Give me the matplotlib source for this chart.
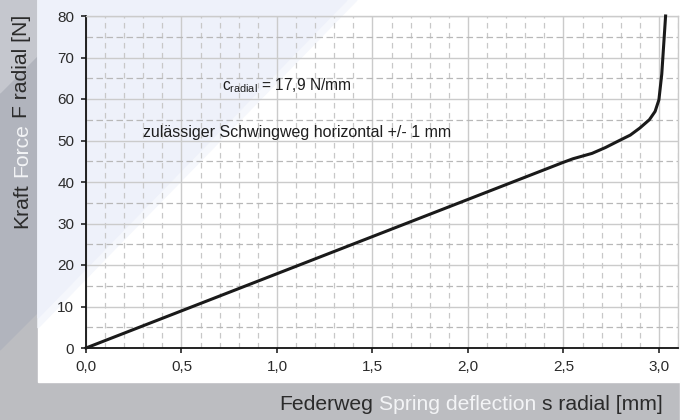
import matplotlib as mpl
import matplotlib.pyplot as plt
from matplotlib.patches import Polygon
from matplotlib.ticker import FixedLocator, MultipleLocator, FixedFormatter

mpl.rc('font', family='Liberation Sans')
mpl.rc('mathtext', fontset='custom', rm='Liberation Sans', it='Liberation Sans:italic')
mpl.rc('lines', scale_dashes=False)

# spring curve
deflection = [0.0, 0.5, 1.0, 1.5, 2.0, 2.5, 2.55, 2.65, 2.72, 2.78, 2.85, 2.9, 2.95, 2.98, 3.0, 3.015, 3.035]
force = [0.0, 8.95, 17.9, 26.85, 35.8, 44.75, 45.6, 46.9, 48.3, 49.7, 51.3, 53.0, 55.0, 57.0, 59.8, 66.0, 80.0]

x_ticks = [0.0, 0.5, 1.0, 1.5, 2.0, 2.5, 3.0]
x_tick_labels = ['0,0', '0,5', '1,0', '1,5', '2,0', '2,5', '3,0']
y_ticks = [0, 10, 20, 30, 40, 50, 60, 70, 80]
y_tick_labels = ['0', '10', '20', '30', '40', '50', '60', '70', '80']

stiffness_text = 'c$_{\\mathrm{radial}}$ = 17,9 N/mm'
travel_text = 'zulässiger Schwingweg horizontal +/- 1 mm'
xlabel_parts = ['Federweg ', 'Spring deflection ', 's radial [mm]']
ylabel_parts = ['Kraft ', 'Force ', 'F radial [N]']

dark = '#2b2b2b'
light = '#f3f4f6'
W, H = 688, 420

fig = plt.figure(figsize=(W / 100, H / 100), dpi=100)
fig.patch.set_facecolor('#bcbdc1')

# page background drawn in pixel coords
bg = fig.add_axes([0, 0, 1, 1], zorder=-1)
bg.set_xlim(0, W)
bg.set_ylim(H, 0)
bg.axis('off')
bg.add_patch(Polygon([(0, 0), (38, 0), (38, 312), (0, 350)], color='#b1b4bd'))
bg.add_patch(Polygon([(0, 0), (38, 0), (38, 55), (0, 93)], color='#c5c7ce'))
bg.add_patch(Polygon([(38, 0), (W, 0), (W, H), (680, H), (680, 382), (38, 382)], color='white'))
bg.add_patch(Polygon([(38, 0), (357, 0), (38, 328)], color='#f5f7fc'))
bg.add_patch(Polygon([(38, 0), (347, 0), (38, 318)], color='#eef1fa'))

ax = fig.add_axes([86 / W, 72 / H, 592 / W, 332 / H])
ax.patch.set_alpha(0)
ax.plot(deflection, force, color='#1a1a1a', lw=2.2, zorder=5, clip_on=False)

ax.set_xlim(0, 3.1)
ax.set_ylim(0, 80)
ax.xaxis.set_major_locator(FixedLocator(x_ticks))
ax.xaxis.set_major_formatter(FixedFormatter(x_tick_labels))
ax.yaxis.set_major_locator(FixedLocator(y_ticks))
ax.yaxis.set_major_formatter(FixedFormatter(y_tick_labels))
ax.xaxis.set_minor_locator(MultipleLocator(0.1))
ax.yaxis.set_minor_locator(MultipleLocator(5))

ax.grid(which='major', color='#cbcbcb', lw=1.0, ls='-')
ax.grid(which='minor', axis='y', color='#b8b8b8', lw=0.9, ls=(0, (4.7, 2.5)))
ax.grid(which='minor', axis='x', color='#c8c8c8', lw=0.9, ls=(0, (4.0, 3.2)))
ax.set_axisbelow(True)

for s in ['left', 'bottom']:
    ax.spines[s].set_color('#111111')
    ax.spines[s].set_linewidth(1.3)
for s in ['top', 'right']:
    ax.spines[s].set_color('#cbcbcb')
    ax.spines[s].set_linewidth(1.0)

ax.tick_params(which='major', length=3.5, width=1.1, color='#111111',
               labelsize=11, labelcolor=dark, pad=5)
ax.tick_params(which='minor', length=0)

ax.text(0.712, 62.0, stiffness_text, fontsize=11.2, color='#1e1e1e', va='baseline')
ax.text(0.298, 50.9, travel_text, fontsize=11.5, color='#1e1e1e', va='baseline')

# multi coloured axis labels, placed piece by piece
renderer = fig.canvas.get_renderer()
fs_label = 15.2


def advance(s):
    t1 = fig.text(0, 0, s + '|', fontsize=fs_label)
    t2 = fig.text(0, 0, '|', fontsize=fs_label)
    w = t1.get_window_extent(renderer).width - t2.get_window_extent(renderer).width
    t1.remove()
    t2.remove()
    return w


def width(s):
    t = fig.text(0, 0, s, fontsize=fs_label)
    w = t.get_window_extent(renderer).width
    t.remove()
    return w


colors = [dark, light, dark]

total = sum(advance(p) for p in xlabel_parts[:-1]) + width(xlabel_parts[-1])
xpos = 663 - total
for part, c in zip(xlabel_parts, colors):
    fig.text(xpos / W, 10 / H, part.strip(), fontsize=fs_label, color=c,
             ha='left', va='baseline')
    xpos += advance(part)

ypos = H - 228
for part, c in zip(ylabel_parts, colors):
    fig.text(27 / W, ypos / H, part.strip(), fontsize=fs_label, color=c,
             ha='left', va='baseline', rotation=90, rotation_mode='anchor')
    ypos += advance(part)

fig.savefig('out.png', dpi=100, facecolor=fig.get_facecolor())
